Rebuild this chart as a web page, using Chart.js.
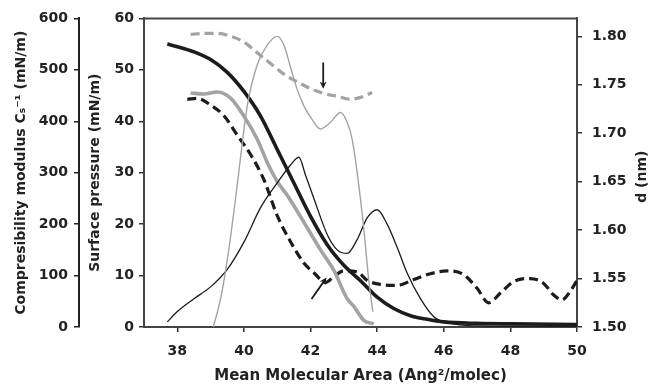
<!DOCTYPE html>
<html><head><meta charset="utf-8">
<script src="https://cdn.jsdelivr.net/npm/chart.js@4/dist/chart.umd.min.js"></script>
<style>html,body{margin:0;padding:0;background:#fff}</style>
</head><body>
<canvas id="c" width="649" height="384"></canvas>
<script>
// ---- tick labels ----
const xTickValues = [38, 40, 42, 44, 46, 48, 50];
const pressureTicks = [0, 10, 20, 30, 40, 50, 60];
const csTicks = [0, 100, 200, 300, 400, 500, 600];
const dTicks = [1.50, 1.55, 1.60, 1.65, 1.70, 1.75, 1.80];

// ---- surface pressure (mN/m) ----
const pBlackArea = [37.7, 38, 38.5, 39, 39.5, 40, 40.5, 41, 41.5, 42, 42.5, 43, 43.5, 44, 44.5, 45, 45.5, 46, 47, 48, 50];
const pBlack     = [55, 54.5, 53.5, 52, 49.5, 45.8, 41, 34.5, 28, 21.5, 16, 12, 9, 5.8, 3.6, 2.2, 1.5, 1, 0.7, 0.6, 0.5];
const pGrayArea  = [38.4, 38.8, 39.2, 39.6, 40.0, 40.4, 40.7, 41.0, 41.3, 41.9, 42.3, 42.7, 43.1, 43.3, 43.6, 43.9];
const pGray      = [45.5, 45.3, 45.7, 44.5, 41.0, 36.5, 32.0, 28.3, 25.6, 19.3, 15.0, 11.0, 5.5, 4.0, 1.3, 0.6];

// ---- compressibility modulus Cs^-1 (mN/m) ----
const csBlackArea = [37.7, 38, 38.5, 39, 39.5, 40, 40.5, 41, 41.4, 41.65, 41.85, 42.1, 42.5, 42.8, 43.1, 43.4, 43.7, 44, 44.3, 44.6, 44.9, 45.3, 45.7, 46.2, 47, 48, 50];
const csBlack     = [10, 30, 55, 78, 112, 165, 232, 280, 315, 330, 295, 250, 180, 150, 143, 170, 212, 228, 200, 155, 105, 55, 20, 7, 2, 1, 1];
const csGrayArea  = [39.08, 39.3, 39.5, 39.7, 39.9, 40.1, 40.4, 40.7, 41.0, 41.2, 41.4, 41.6, 41.8, 42.0, 42.3, 42.6, 42.9, 43.1, 43.25, 43.4, 43.6, 43.75, 43.87];
const csGray      = [0, 55, 130, 225, 330, 430, 510, 548, 565, 548, 505, 462, 430, 408, 385, 398, 417, 398, 365, 300, 190, 90, 30];

// ---- d (nm) ----
const dGrayArea  = [38.4, 38.8, 39.2, 39.6, 40.0, 40.4, 40.8, 41.2, 41.6, 42.0, 42.4, 42.8, 43.2, 43.5, 43.85];
const dGray      = [1.802, 1.803, 1.803, 1.800, 1.794, 1.783, 1.772, 1.761, 1.753, 1.746, 1.741, 1.738, 1.735, 1.737, 1.742];
const dBlackArea = [38.3, 38.6, 39.0, 39.4, 39.8, 40.2, 40.6, 41.0, 41.4, 41.8, 42.1, 42.45, 42.7, 43.0, 43.4, 43.7, 44.1, 44.6, 45.1, 45.6, 46.1, 46.6, 47.0, 47.35, 47.7, 48.1, 48.6, 49.0, 49.3, 49.55, 49.8, 50.0];
const dBlack     = [1.735, 1.736, 1.729, 1.718, 1.698, 1.678, 1.652, 1.615, 1.588, 1.566, 1.556, 1.546, 1.552, 1.558, 1.557, 1.548, 1.544, 1.543, 1.549, 1.555, 1.558, 1.554, 1.540, 1.525, 1.535, 1.547, 1.550, 1.545, 1.533, 1.528, 1.537, 1.548];

// ---- arrow annotations (area, d) ----
const arrowFrom = [[42.38, 1.773], [42.03, 1.529]];
const arrowTo   = [[42.38, 1.746], [42.48, 1.551]];

const pts = (xs, ys) => xs.map((x, i) => ({x: x, y: ys[i]}));
const FONT = "'DejaVu Sans', 'Liberation Sans', sans-serif";
const BLACK = '#1c1c1c', GRAY = '#a3a3a3';

const decor = {
  id: 'decor',
  afterDatasetsDraw(chart) {
    const {ctx, chartArea: a, scales} = chart;
    ctx.save();
    ctx.strokeStyle = '#444'; ctx.lineWidth = 2;
    ctx.beginPath(); ctx.moveTo(a.left, a.top); ctx.lineTo(a.right + 1, a.top); ctx.stroke();
    ctx.strokeStyle = BLACK; ctx.fillStyle = BLACK; ctx.lineWidth = 1.8;
    arrowFrom.forEach((f, i) => {
      const x0 = scales.x.getPixelForValue(f[0]), y0 = scales.yD.getPixelForValue(f[1]);
      const x1 = scales.x.getPixelForValue(arrowTo[i][0]), y1 = scales.yD.getPixelForValue(arrowTo[i][1]);
      const ang = Math.atan2(y1 - y0, x1 - x0), L = 8, W = 0.45;
      ctx.beginPath(); ctx.moveTo(x0, y0);
      ctx.lineTo(x1 - Math.cos(ang) * 4, y1 - Math.sin(ang) * 4); ctx.stroke();
      ctx.beginPath(); ctx.moveTo(x1, y1);
      ctx.lineTo(x1 - L * Math.cos(ang - W), y1 - L * Math.sin(ang - W));
      ctx.lineTo(x1 - L * 0.6 * Math.cos(ang), y1 - L * 0.6 * Math.sin(ang));
      ctx.lineTo(x1 - L * Math.cos(ang + W), y1 - L * Math.sin(ang + W));
      ctx.closePath(); ctx.fill();
    });
    // right axis title (reads bottom to top)
    ctx.fillStyle = '#222';
    ctx.font = "bold 14px " + FONT;
    ctx.translate(chart.width - 7, (a.top + a.bottom) / 2 + 4);
    ctx.rotate(-Math.PI / 2);
    ctx.textAlign = 'center'; ctx.textBaseline = 'middle';
    ctx.fillText('d (nm)', 0, 0);
    ctx.restore();
  }
};

const tickFont = {family: FONT, size: 14, weight: 'bold'};
const titleFont = {family: FONT, size: 14, weight: 'bold', lineHeight: 1.2};
const setTicks = arr => (s => { s.ticks = arr.map(v => ({value: v})); });

new Chart(document.getElementById('c'), {
  type: 'line',
  data: {
    datasets: [
      {label: 'Cs gray', data: pts(csGrayArea, csGray), yAxisID: 'yCs', borderColor: GRAY, borderWidth: 1.4},
      {label: 'Cs black', data: pts(csBlackArea, csBlack), yAxisID: 'yCs', borderColor: BLACK, borderWidth: 1.3},
      {label: 'd gray', data: pts(dGrayArea, dGray), yAxisID: 'yD', borderColor: GRAY, borderWidth: 3.2, borderDash: [9, 5]},
      {label: 'P gray', data: pts(pGrayArea, pGray), yAxisID: 'yP', borderColor: GRAY, borderWidth: 3.6},
      {label: 'P black', data: pts(pBlackArea, pBlack), yAxisID: 'yP', borderColor: BLACK, borderWidth: 3.6},
      {label: 'd black', data: pts(dBlackArea, dBlack), yAxisID: 'yD', borderColor: BLACK, borderWidth: 3.2, borderDash: [9, 5]}
    ]
  },
  options: {
    responsive: false,
    animation: false,
    devicePixelRatio: 1,
    elements: {point: {radius: 0}, line: {cubicInterpolationMode: 'monotone', fill: false}},
    layout: {padding: {top: 15, left: 0, right: 0, bottom: 0}},
    plugins: {legend: {display: false}, tooltip: {enabled: false}},
    scales: {
      x: {
        type: 'linear', min: 37, max: 50,
        afterBuildTicks: setTicks(xTickValues),
        afterFit: s => { s.height = 57; },
        grid: {drawOnChartArea: false, drawTicks: true, tickLength: 5, color: '#333', lineWidth: 1.5},
        border: {display: true, color: '#444', width: 2},
        ticks: {font: tickFont, color: '#222', padding: 11, maxRotation: 0},
        title: {display: true, text: 'Mean Molecular Area (Ang²/molec)', font: {family: FONT, size: 15, weight: 'bold', lineHeight: 1}, color: '#222', padding: {top: 0, bottom: 0}}
      },
      yP: {
        type: 'linear', position: 'left', weight: 0, min: 0, max: 60,
        afterBuildTicks: setTicks(pressureTicks),
        afterFit: s => { s.width = 65; },
        grid: {drawOnChartArea: false, drawTicks: true, tickLength: 5, color: '#333', lineWidth: 1.5},
        border: {display: true, color: '#444', width: 2},
        ticks: {font: tickFont, color: '#222', padding: 5},
        title: {display: true, text: 'Surface pressure (mN/m)', font: titleFont, color: '#222', padding: {top: 7.6, bottom: 0}}
      },
      yCs: {
        type: 'linear', position: 'left', weight: 1, min: 0, max: 600,
        afterBuildTicks: setTicks(csTicks),
        afterFit: s => { s.width = 79; },
        grid: {drawOnChartArea: false, drawTicks: true, tickLength: 5, color: '#222', lineWidth: 1.5},
        border: {display: true, color: '#222', width: 2},
        ticks: {font: tickFont, color: '#222', padding: 6},
        title: {display: true, text: 'Compresibility modulus Cₛ⁻¹ (mN/m)', font: titleFont, color: '#222', padding: {top: 12.6, bottom: 0}}
      },
      yD: {
        type: 'linear', position: 'right', min: 1.50, max: 1.8185,
        afterBuildTicks: setTicks(dTicks),
        afterFit: s => { s.width = 72; },
        grid: {drawOnChartArea: false, drawTicks: true, tickLength: 5, color: '#333', lineWidth: 1.5},
        border: {display: true, color: '#444', width: 2},
        ticks: {font: tickFont, color: '#222', padding: 10, callback: v => v.toFixed(2)},
        title: {display: false}
      }
    }
  },
  plugins: [decor]
});
</script>
</body></html>
